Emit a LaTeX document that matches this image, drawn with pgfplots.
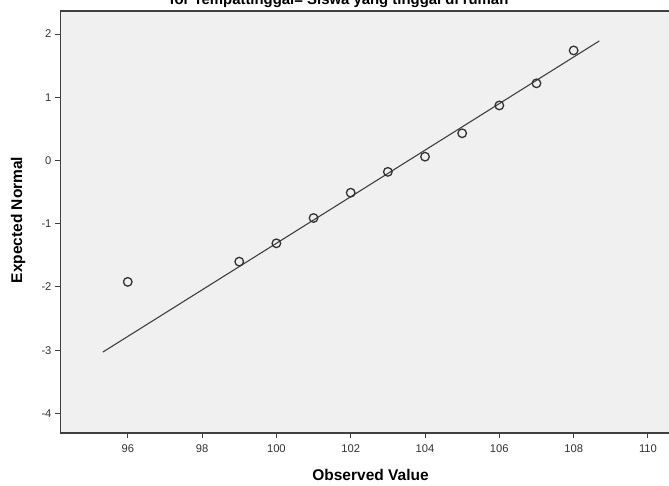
\documentclass[border=0pt]{standalone}
\usepackage{pgfplots}
\pgfplotsset{compat=1.18}
\usepackage{fontspec}
\setmainfont{Liberation Sans}
\definecolor{bgc}{HTML}{F0F0F0}
\definecolor{axc}{HTML}{404040}
\definecolor{mkc}{HTML}{333333}
\begin{document}
\begin{tikzpicture}
\path[use as bounding box, clip] (0pt,0pt) rectangle (669pt,486pt);
\begin{axis}[
  at={(60.5pt,53pt)}, anchor=south west,
  scale only axis, width=623.5pt, height=422pt,
  xmin=94.19, xmax=110.97, ymin=-4.31, ymax=2.364,
  axis background/.style={fill=bgc},
  axis line style={axc, line width=1.1pt},
  tick style={axc, line width=1pt},
  tick align=outside, tickpos=left,
  major tick length=5.5pt,
  xtick={96,98,...,110}, ytick={-4,-3,...,2},
  xticklabels={96,98,100,102,104,106,108,110},
  yticklabels={-4,-3,-2,-1,0,1,2},
  ticklabel style={font=\fontsize{11.2}{13}\selectfont, text=black!80},
  xticklabel style={yshift=-2.5pt},
  yticklabel style={xshift=0pt},
  clip=false,
]
\addplot[axc, line width=1.1pt] coordinates {(95.33,-3.03) (108.69,1.89)};
\addplot[only marks, mark=o, mark size=4.3pt, mark options={mkc, line width=1.3pt}] coordinates {
(96,-1.92) (99,-1.60) (100,-1.31) (101,-0.91) (102,-0.51) (103,-0.18)
(104,0.06) (105,0.43) (106,0.87) (107,1.22) (108,1.74)};
\end{axis}
\node[font=\bfseries\fontsize{15.5}{17}\selectfont] at (370.5pt,11pt) {Observed Value};
\node[font=\bfseries\fontsize{15.5}{17}\selectfont, rotate=90] at (18pt,266pt) {Expected Normal};
\node[font=\bfseries\fontsize{14.9}{17}\selectfont, anchor=base] at (339pt,481.5pt) {for Tempattinggal= Siswa yang tinggal di rumah};
\end{tikzpicture}
\end{document}
